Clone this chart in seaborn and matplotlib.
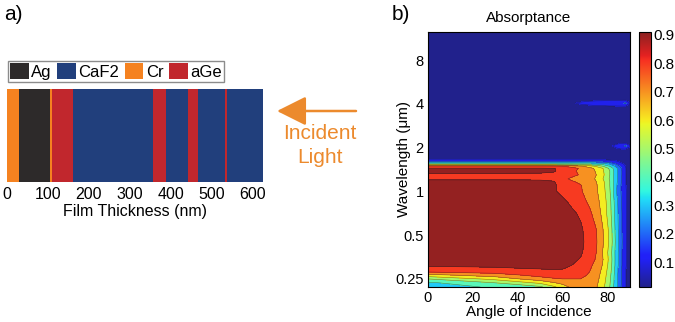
import numpy as np
import matplotlib
matplotlib.use("Agg")
import matplotlib.pyplot as plt
import seaborn as sns
from matplotlib.patches import Patch
from matplotlib.colors import ListedColormap, Normalize
from matplotlib.cm import ScalarMappable
from matplotlib.ticker import NullLocator

# ---- panel a) layer stack ----
materials = ['Cr', 'Ag', 'Cr', 'aGe', 'CaF2', 'aGe', 'CaF2', 'aGe', 'CaF2', 'aGe', 'CaF2']
thickness_nm = [29, 76, 4, 53, 195, 31, 53, 26, 64, 6, 87]
legend_order = ['Ag', 'CaF2', 'Cr', 'aGe']
material_colors = {'Ag': '#2d2a2a', 'CaF2': '#213f7c', 'Cr': '#f58220', 'aGe': '#c1272d'}
thickness_ticks = [0, 100, 200, 300, 400, 500, 600]

# ---- panel b) absorptance map (read off the picture) ----
angles = [0, 30, 50, 56, 60, 64, 68, 72, 75, 78, 81, 84, 86, 88, 90]
wavelengths = [0.22, 0.235, 0.25, 0.265, 0.28, 0.295, 0.31, 0.34, 0.38, 0.45, 0.55, 0.70,
               0.85, 1.00, 1.10, 1.17, 1.22, 1.30, 1.38, 1.44, 1.49, 1.54, 1.60, 1.66,
               1.80, 1.95, 2.05, 2.15, 3.0, 3.85, 4.05, 4.25, 6.0, 12.5]
absorptance = [
    [0.33, 0.42, 0.48, 0.58, 0.65, 0.72, 0.74, 0.74, 0.71, 0.62, 0.50, 0.32, 0.20, 0.11, 0.02],
    [0.38, 0.50, 0.62, 0.69, 0.73, 0.76, 0.77, 0.76, 0.72, 0.64, 0.51, 0.33, 0.21, 0.11, 0.02],
    [0.50, 0.63, 0.76, 0.79, 0.80, 0.80, 0.80, 0.78, 0.73, 0.65, 0.52, 0.33, 0.21, 0.11, 0.02],
    [0.66, 0.75, 0.83, 0.84, 0.84, 0.84, 0.82, 0.79, 0.74, 0.66, 0.53, 0.33, 0.21, 0.11, 0.02],
    [0.81, 0.84, 0.87, 0.88, 0.88, 0.86, 0.84, 0.80, 0.75, 0.67, 0.54, 0.34, 0.21, 0.11, 0.02],
    [0.88, 0.89, 0.905, 0.91, 0.905, 0.88, 0.855, 0.81, 0.76, 0.68, 0.55, 0.34, 0.21, 0.11, 0.02],
    [0.91, 0.915, 0.92, 0.92, 0.915, 0.90, 0.87, 0.82, 0.77, 0.69, 0.56, 0.35, 0.22, 0.12, 0.02],
    [0.92, 0.92, 0.92, 0.92, 0.92, 0.915, 0.895, 0.84, 0.79, 0.70, 0.57, 0.35, 0.22, 0.12, 0.02],
    [0.93, 0.93, 0.93, 0.93, 0.93, 0.925, 0.91, 0.865, 0.80, 0.69, 0.56, 0.35, 0.22, 0.12, 0.02],
    [0.93, 0.93, 0.93, 0.93, 0.93, 0.93, 0.915, 0.875, 0.81, 0.71, 0.58, 0.36, 0.23, 0.12, 0.02],
    [0.93, 0.93, 0.93, 0.93, 0.93, 0.925, 0.91, 0.87, 0.80, 0.70, 0.57, 0.35, 0.22, 0.12, 0.02],
    [0.93, 0.93, 0.93, 0.93, 0.93, 0.915, 0.89, 0.82, 0.76, 0.67, 0.54, 0.34, 0.22, 0.12, 0.02],
    [0.93, 0.93, 0.93, 0.93, 0.915, 0.885, 0.84, 0.78, 0.73, 0.66, 0.53, 0.33, 0.21, 0.12, 0.02],
    [0.93, 0.93, 0.925, 0.91, 0.88, 0.845, 0.81, 0.757, 0.714, 0.64, 0.51, 0.30, 0.20, 0.12, 0.02],
    [0.93, 0.93, 0.925, 0.91, 0.88, 0.84, 0.805, 0.76, 0.71, 0.63, 0.50, 0.31, 0.20, 0.11, 0.02],
    [0.93, 0.93, 0.925, 0.905, 0.86, 0.81, 0.78, 0.74, 0.70, 0.62, 0.50, 0.32, 0.21, 0.11, 0.02],
    [0.88, 0.88, 0.88, 0.86, 0.83, 0.78, 0.77, 0.73, 0.69, 0.60, 0.49, 0.32, 0.21, 0.11, 0.02],
    [0.88, 0.88, 0.88, 0.875, 0.86, 0.83, 0.79, 0.75, 0.70, 0.62, 0.50, 0.33, 0.22, 0.11, 0.02],
    [0.93, 0.93, 0.925, 0.91, 0.87, 0.82, 0.78, 0.74, 0.69, 0.61, 0.50, 0.33, 0.22, 0.11, 0.01],
    [0.91, 0.91, 0.91, 0.905, 0.87, 0.83, 0.79, 0.73, 0.68, 0.60, 0.48, 0.32, 0.21, 0.11, 0.01],
    [0.84, 0.84, 0.84, 0.83, 0.80, 0.77, 0.72, 0.65, 0.58, 0.50, 0.40, 0.27, 0.17, 0.10, 0.01],
    [0.45, 0.45, 0.45, 0.45, 0.45, 0.44, 0.43, 0.42, 0.40, 0.37, 0.30, 0.20, 0.13, 0.08, 0.01],
    [0.20, 0.20, 0.20, 0.20, 0.20, 0.20, 0.20, 0.19, 0.19, 0.18, 0.16, 0.12, 0.08, 0.05, 0.01],
    [0.08, 0.08, 0.08, 0.08, 0.08, 0.08, 0.08, 0.08, 0.08, 0.08, 0.07, 0.06, 0.05, 0.04, 0.01],
    [0.05, 0.05, 0.05, 0.05, 0.05, 0.05, 0.05, 0.05, 0.05, 0.05, 0.05, 0.05, 0.05, 0.04, 0.01],
    [0.04, 0.04, 0.04, 0.04, 0.04, 0.04, 0.04, 0.04, 0.04, 0.04, 0.05, 0.08, 0.095, 0.095, 0.05],
    [0.04, 0.04, 0.04, 0.04, 0.04, 0.04, 0.04, 0.04, 0.04, 0.05, 0.08, 0.13, 0.16, 0.22, 0.11],
    [0.04, 0.04, 0.04, 0.04, 0.04, 0.04, 0.04, 0.04, 0.04, 0.04, 0.05, 0.08, 0.095, 0.095, 0.05],
    [0.03, 0.03, 0.03, 0.03, 0.03, 0.03, 0.03, 0.03, 0.03, 0.03, 0.03, 0.03, 0.03, 0.03, 0.01],
    [0.03, 0.03, 0.03, 0.03, 0.04, 0.05, 0.07, 0.085, 0.09, 0.09, 0.095, 0.095, 0.095, 0.095, 0.05],
    [0.03, 0.03, 0.03, 0.04, 0.06, 0.09, 0.115, 0.125, 0.13, 0.135, 0.14, 0.15, 0.17, 0.22, 0.10],
    [0.03, 0.03, 0.03, 0.03, 0.04, 0.05, 0.07, 0.085, 0.09, 0.09, 0.095, 0.095, 0.095, 0.095, 0.05],
    [0.03, 0.03, 0.03, 0.03, 0.03, 0.03, 0.03, 0.03, 0.03, 0.03, 0.03, 0.03, 0.03, 0.03, 0.01],
    [0.02, 0.02, 0.02, 0.02, 0.02, 0.02, 0.02, 0.02, 0.02, 0.02, 0.02, 0.02, 0.02, 0.02, 0.01],
]
wl_ticks = [0.25, 0.5, 1, 2, 4, 8]
wl_ticklabels = ['0.25', '0.5', '1', '2', '4', '8']
angle_ticks = [0, 20, 40, 60, 80]
cbar_ticks = [0.1, 0.2, 0.3, 0.4, 0.5, 0.6, 0.7, 0.8, 0.9]

sns.set_theme(style="white")
plt.rcParams['font.family'] = ['Liberation Sans', 'DejaVu Sans']
for key in ['text.color', 'axes.labelcolor', 'xtick.color', 'ytick.color']:
    plt.rcParams[key] = 'black'

orange = '#ec8a2d'
fig = plt.figure(figsize=(6.75, 3.22), dpi=100)

# ---------- a) ----------
ax1 = fig.add_axes([0.0104, 0.4357, 0.3788, 0.287])
starts = np.concatenate([[0], np.cumsum(thickness_nm)[:-1]])
ax1.barh(0.5, thickness_nm, left=starts, height=1.0,
         color=[material_colors[m] for m in materials], edgecolor='none')
ax1.set_xlim(0, sum(thickness_nm))
ax1.set_ylim(0, 1)
ax1.set_yticks([])
ax1.set_xticks(thickness_ticks)
ax1.tick_params(axis='x', length=0, labelsize=11.5, pad=4)
ax1.set_xlabel('Film Thickness (nm)', fontsize=11.5, labelpad=1)
sns.despine(ax=ax1, left=True, bottom=True)

handles = [Patch(facecolor=material_colors[m], edgecolor='none', label=m) for m in legend_order]
leg = ax1.legend(handles=handles, loc='lower left', bbox_to_anchor=(0.003, 1.075),
                 ncol=4, fontsize=12, handlelength=1.1, handleheight=1.1,
                 handletextpad=0.15, columnspacing=0.35, borderpad=0.15,
                 borderaxespad=0, frameon=True, fancybox=False, framealpha=1)
leg.get_frame().set_edgecolor('#8c8c8c')
leg.get_frame().set_linewidth(1.0)

ax1.annotate('', xy=(277 / 675, 1 - 111 / 322), xytext=(356 / 675, 1 - 111 / 322),
             xycoords='figure fraction', textcoords='figure fraction',
             arrowprops=dict(arrowstyle='-|>,head_length=0.9,head_width=0.45',
                             color=orange, lw=1.8, mutation_scale=20, shrinkA=0, shrinkB=0),
             annotation_clip=False)
fig.text(320 / 675, 1 - 133 / 322, 'Incident', color=orange, fontsize=15, ha='center', va='center')
fig.text(320 / 675, 1 - 158 / 322, 'Light', color=orange, fontsize=15, ha='center', va='center')

fig.text(0.006, 0.955, 'a)', fontsize=15, va='center')
fig.text(0.581, 0.955, 'b)', fontsize=15, va='center')

# ---------- b) ----------
ax2 = fig.add_axes([0.634, 0.1087, 0.2993, 0.792])
base = plt.get_cmap('jet')(np.linspace(0, 1, 256))[:, :3]
cmap = ListedColormap(base * 0.84 + 0.13)
norm = Normalize(vmin=0.012, vmax=0.91)
levels = [0.0, 0.1, 0.2, 0.3, 0.4, 0.5, 0.6, 0.7, 0.8, 0.9, 1.0]
band_colors = [cmap(norm(lv)) for lv in levels[:-1]]

A = np.array(absorptance)
ax2.contourf(angles, wavelengths, A, levels=levels, colors=band_colors)
ax2.contour(angles, wavelengths, A, levels=levels[1:-1], colors='k',
            linewidths=0.4, alpha=0.55)
ax2.set_yscale('log', base=2)
ax2.set_ylim(0.22, 12.5)
ax2.set_xlim(0, 90)
ax2.set_yticks(wl_ticks)
ax2.set_yticklabels(wl_ticklabels)
ax2.yaxis.set_minor_locator(NullLocator())
ax2.set_xticks(angle_ticks)
ax2.tick_params(direction='in', length=3, width=0.6, labelsize=10.5, pad=3,
                top=True, right=True)
for s in ax2.spines.values():
    s.set_linewidth(0.8)
    s.set_color('black')
ax2.set_xlabel('Angle of Incidence', fontsize=11, labelpad=0)
ax2.set_ylabel('Wavelength (μm)', fontsize=11)
ax2.yaxis.set_label_coords(-0.085, 0.5)
ax2.set_title('Absorptance', fontsize=11, pad=7)

cax = fig.add_axes([0.9467, 0.1087, 0.0178, 0.792])
cbar = fig.colorbar(ScalarMappable(norm=norm, cmap=cmap), cax=cax, ticks=cbar_ticks)
cbar.ax.set_yticklabels([f'{t:.1f}' for t in cbar_ticks])
cbar.ax.tick_params(direction='in', length=3, width=0.5, labelsize=11, pad=2)
cbar.outline.set_linewidth(0.8)
cbar.outline.set_edgecolor('black')

fig.savefig('out.png', dpi=100)
